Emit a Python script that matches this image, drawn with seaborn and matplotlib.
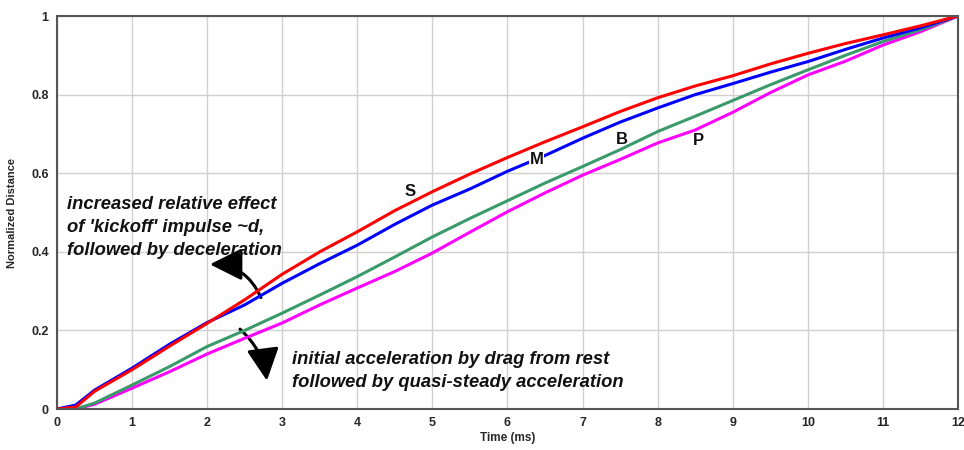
import matplotlib
matplotlib.use("Agg")
import matplotlib.pyplot as plt
import seaborn as sns
import pandas as pd
from matplotlib.patches import FancyArrowPatch

time_ms = [0, 0.25, 0.5, 1, 1.5, 2, 2.5, 3, 3.5, 4, 4.5, 5, 5.5, 6, 6.5, 7,
           7.5, 8, 8.5, 9, 9.5, 10, 10.5, 11, 11.5, 12]
series_S = [0, 0.005, 0.045, 0.100, 0.160, 0.218, 0.278, 0.343, 0.400, 0.451,
            0.505, 0.553, 0.598, 0.640, 0.680, 0.718, 0.757, 0.792, 0.822,
            0.848, 0.878, 0.905, 0.930, 0.952, 0.975, 1.0]
series_M = [0, 0.010, 0.048, 0.104, 0.165, 0.220, 0.265, 0.320, 0.370, 0.417,
            0.470, 0.519, 0.560, 0.605, 0.645, 0.689, 0.730, 0.766, 0.800,
            0.828, 0.857, 0.884, 0.915, 0.944, 0.970, 1.0]
series_B = [0, 0.0, 0.015, 0.061, 0.108, 0.159, 0.200, 0.244, 0.290, 0.337,
            0.387, 0.438, 0.485, 0.530, 0.575, 0.617, 0.660, 0.706, 0.745,
            0.785, 0.825, 0.863, 0.900, 0.935, 0.965, 1.0]
series_P = [0, 0.0, 0.012, 0.053, 0.095, 0.140, 0.180, 0.219, 0.265, 0.308,
            0.350, 0.397, 0.450, 0.502, 0.550, 0.595, 0.635, 0.677, 0.710,
            0.755, 0.805, 0.850, 0.885, 0.926, 0.960, 1.0]
series_names = ["P", "B", "M", "S"]
series_colors = {"S": "#ff0000", "M": "#0000ff", "B": "#3a9a6a", "P": "#ff00ff"}
x_ticks = list(range(0, 13))
y_ticks = [0, 0.2, 0.4, 0.6, 0.8, 1]
y_tick_labels = ["0", "0.2", "0.4", "0.6", "0.8", "1"]

rows = []
for name, vals in zip(series_names, [series_P, series_B, series_M, series_S]):
    for t, v in zip(time_ms, vals):
        rows.append({"Time": t, "Distance": v, "Series": name})
df = pd.DataFrame(rows)

sns.set_style("white")
plt.rcParams["font.family"] = ["Liberation Sans", "DejaVu Sans"]

fig = plt.figure(figsize=(9.64, 4.5), dpi=100)
ax = fig.add_axes([0.0591, 0.0911, 0.9347, 0.8733])

sns.lineplot(data=df, x="Time", y="Distance", hue="Series",
             hue_order=series_names, palette=series_colors, linewidth=2.2,
             legend=False, ax=ax, sort=False)

ax.set_xlim(0, 12)
ax.set_ylim(0, 1)
ax.set_xticks(x_ticks)
ax.set_xticklabels([str(t) for t in x_ticks], fontsize=9, fontweight="bold")
ax.set_yticks(y_ticks)
ax.set_yticklabels(y_tick_labels, fontsize=9, fontweight="bold")
ax.tick_params(length=0, pad=6)
ax.grid(True, color="#d0d0d0", linewidth=1.0)
ax.set_axisbelow(True)
for sp in ax.spines.values():
    sp.set_color("#555555")
    sp.set_linewidth(1.5)
ax.set_xlabel("Time (ms)", fontsize=8.5, fontweight="bold", labelpad=2)
ax.set_ylabel("Normalized Distance", fontsize=8, fontweight="bold", labelpad=10)

# series labels
lab_kw = dict(fontsize=12, fontweight="bold", ha="center", va="center",
              color="#111111")
ax.text(4.70, 0.553, "S", **lab_kw)
ax.text(6.39, 0.634, "M", bbox=dict(facecolor="white", edgecolor="none", pad=0.5), **lab_kw)
ax.text(7.52, 0.687, "B", **lab_kw)
ax.text(8.54, 0.684, "P", **lab_kw)

ann_kw = dict(fontsize=13.2, fontweight="bold", fontstyle="italic",
              color="#111111", ha="left", va="center", linespacing=1.45)
ax.text(0.14, 0.462, "increased relative effect\nof 'kickoff' impulse ~d,\nfollowed by deceleration",
        **ann_kw)
ax.text(3.13, 0.097, "initial acceleration by drag from rest\nfollowed by quasi-steady acceleration",
        **ann_kw)

arr1 = FancyArrowPatch((2.73, 0.277), (2.00, 0.368),
                       connectionstyle="arc3,rad=0.35",
                       arrowstyle="-|>,head_length=1.1,head_width=0.55",
                       mutation_scale=18, color="black", linewidth=2.2)
ax.add_patch(arr1)
arr2 = FancyArrowPatch((2.41, 0.208), (2.80, 0.065),
                       connectionstyle="arc3,rad=-0.2",
                       arrowstyle="-|>,head_length=1.1,head_width=0.55",
                       mutation_scale=18, color="black", linewidth=2.2)
ax.add_patch(arr2)

fig.savefig("out.png", dpi=100)
